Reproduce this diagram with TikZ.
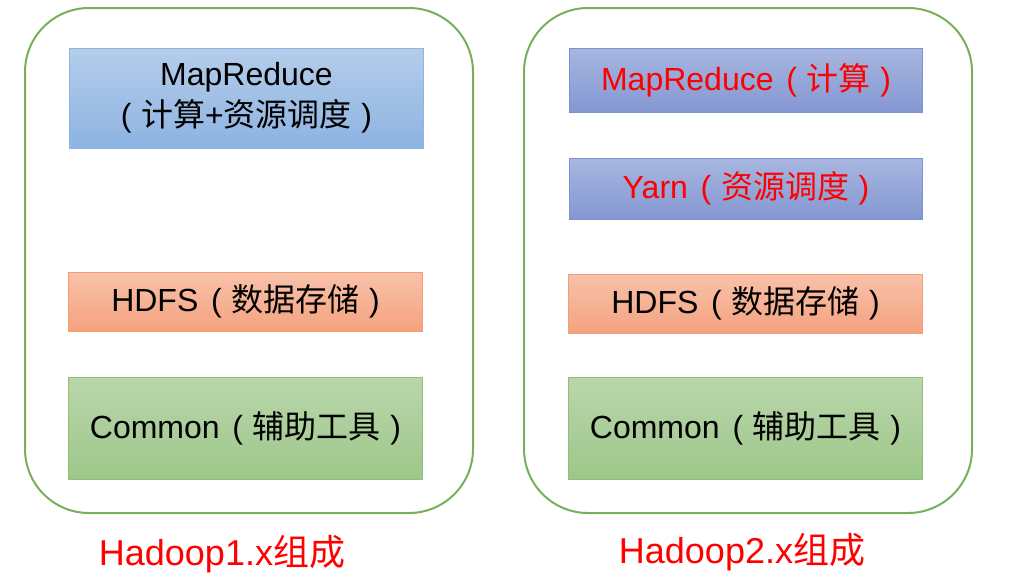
\documentclass[tikz,border=0pt]{standalone}
\usepackage{fontspec}
\setmainfont{Liberation Sans}
\newfontfamily\cjk{Noto Sans CJK SC}
\usetikzlibrary{shadings}
\definecolor{framegreen}{HTML}{77B05A}
\definecolor{mrtop}{HTML}{B5CDEA}
\definecolor{mrbot}{HTML}{8DB3E2}
\definecolor{mrline}{HTML}{8EB4E3}
\definecolor{yntop}{HTML}{A7B7E0}
\definecolor{ynbot}{HTML}{8497D2}
\definecolor{ynline}{HTML}{7D93CF}
\definecolor{hdtop}{HTML}{F8C2AA}
\definecolor{hdbot}{HTML}{F4A27F}
\definecolor{hdline}{HTML}{F79B72}
\definecolor{cmtop}{HTML}{BAD6AB}
\definecolor{cmbot}{HTML}{9DC78A}
\definecolor{cmline}{HTML}{8FC07A}
\definecolor{hotred}{HTML}{FF0000}
% spaced round brackets round the Chinese part
\newcommand{\lpar}{\hspace{0.4em}(\hspace{0.3em}}
\newcommand{\rpar}{\hspace{0.3em})}

\begin{document}
\begin{tikzpicture}[x=0.75pt, y=-0.75pt,
    frame/.style={draw=framegreen, line width=1.5pt, rounded corners=48pt,
        minimum width=336pt, minimum height=378.75pt, inner sep=0pt},
    layer/.style={line width=0.75pt, inner sep=0pt, minimum width=265pt,
        align=center, font=\fontsize{24}{31}\selectfont},
    mrbox/.style={layer, draw=mrline, top color=mrtop, bottom color=mrbot},
    ynbox/.style={layer, draw=ynline, top color=yntop, bottom color=ynbot, text=hotred},
    hdbox/.style={layer, draw=hdline, top color=hdtop, bottom color=hdbot, minimum height=44.25pt},
    cmbox/.style={layer, draw=cmline, top color=cmtop, bottom color=cmbot, minimum height=76.5pt},
    caption/.style={text=hotred, anchor=base, font=\fontsize{27}{32}\selectfont}]
    \useasboundingbox (0,0) rectangle (1020,575);

    % Hadoop 1.x
    \node[frame] (hadoop1) at (249,260.5) {};
    \node[mrbox, minimum height=75pt] (mr1) at (246.5,98)
        {MapReduce\\(\hspace{0.3em}{\cjk 计算}+{\cjk 资源调度}\rpar};
    \node[hdbox] (hdfs1) at (245.5,301.5) {HDFS\lpar{\cjk 数据存储}\rpar};
    \node[cmbox] (common1) at (245.5,428) {Common\lpar{\cjk 辅助工具}\rpar};
    \node[caption] (cap1) at (222,565) {Hadoop1.x{\cjk 组成}};

    % Hadoop 2.x
    \node[frame] (hadoop2) at (748,260.5) {};
    \node[ynbox, minimum height=48pt] (mr2) at (746,80) {MapReduce\lpar{\cjk 计算}\rpar};
    \node[ynbox, minimum height=45.75pt] (yarn2) at (746,188.5) {Yarn\lpar{\cjk 资源调度}\rpar};
    \node[hdbox] (hdfs2) at (745.5,303.5) {HDFS\lpar{\cjk 数据存储}\rpar};
    \node[cmbox] (common2) at (745.5,428) {Common\lpar{\cjk 辅助工具}\rpar};
    \node[caption] (cap2) at (742,563) {Hadoop2.x{\cjk 组成}};
\end{tikzpicture}
\end{document}
